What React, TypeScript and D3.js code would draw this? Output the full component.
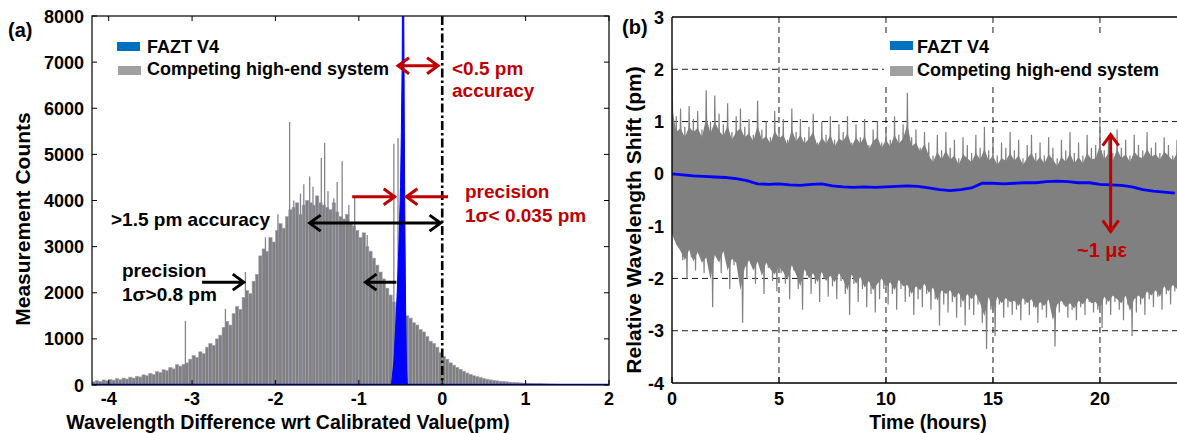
import React from 'react'
import * as d3 from 'd3'

const W = 1177
const H = 433
const FONT = '"Liberation Sans", Arial, Helvetica, sans-serif'
const RED = '#c00000'

// ---- (a) histogram data ----
const histStart = -4.2
const histBin = 0.04
// competing system, counts per 0.04 pm bin from -4.2 pm
const competingCounts = [
  70, 95, 80, 110, 90, 120, 105, 140, 115, 150,
  130, 170, 150, 190, 175, 220, 200, 250, 230, 290,
  270, 330, 310, 380, 350, 440, 410, 450, 480, 560,
  640, 600, 720, 680, 820, 900, 860, 1000, 1080, 1250,
  1380, 1300, 1550, 1700, 1640, 1900, 2050, 1980, 2250, 2400,
  2800, 2950, 2900, 3200, 3100, 3350, 3500, 3400, 3650, 3800,
  3850, 3950, 3700, 3900, 4000, 3950, 3900, 4100, 3950, 3900,
  3850, 3800, 3950, 3750, 3650, 3600, 3700, 3500, 3450, 3350,
  3200, 3300, 3000, 2900, 2750, 2600, 2450, 2300, 2100, 1950,
  1800, 1700, 1650, 1550, 1500, 1450, 1350, 1300, 1200, 1150,
  1050, 950, 900, 820, 700, 620, 560, 480, 430, 380,
  340, 300, 260, 230, 200, 180, 160, 140, 125, 110,
  100, 90, 80, 75, 68, 60, 55, 50, 45, 42,
  38, 35, 32, 30, 28, 25, 22, 20, 18, 16,
  15, 14, 12, 11, 10, 9, 8, 8, 7, 6, 6, 5, 5, 4, 4,
]
// single-bin outliers of the competing system
const spikeX = [-3.08, -2.6, -2.36, -2.12, -1.97, -1.83, -1.78, -1.7, -1.66, -1.59, -1.55, -1.45, -1.41, -1.37, -1.3, -1.26, -1.2, -1.12, -1.05, -0.9, -0.58, -0.53]
const spikeCounts = [1390, 1650, 2450, 3200, 3700, 5700, 4000, 4150, 4350, 4520, 4300, 4920, 5250, 4200, 4050, 4400, 4850, 3900, 4100, 3250, 5230, 5350]
// FAZT V4 histogram (narrow peak)
const faztX = [-0.61, -0.6, -0.58, -0.56, -0.54, -0.52, -0.5, -0.49, -0.48, -0.475, -0.47, -0.46, -0.45, -0.44, -0.43, -0.42, -0.41]
const faztCounts = [0, 150, 500, 1200, 2000, 3000, 4300, 5500, 7000, 9000, 11000, 7500, 4000, 1800, 500, 50, 0]
const xTicksA = [-4, -3, -2, -1, 0, 1, 2]
const yTicksA = [0, 1000, 2000, 3000, 4000, 5000, 6000, 7000, 8000]

// ---- (b) time series data ----
const timeStep = 0.2
// per-sample peaks of the competing system
const competingHigh = [
  2.05, 1.1, 1.25, 0.9, 1.3, 1.05, 1.2, 0.85, 1.6, 1.0,
  1.5, 1.15, 0.95, 1.35, 0.8, 1.1, 1.25, 0.9, 1.05, 0.75,
  1.4, 0.85, 1.0, 0.7, 1.2, 0.9, 1.05, 0.65, 1.25, 0.8,
  1.05, 0.7, 0.9, 1.15, 0.6, 1.0, 0.75, 1.1, 0.65, 0.95,
  0.8, 1.1, 0.6, 0.95, 0.7, 1.05, 0.55, 0.85, 1.0, 0.6,
  0.9, 0.65, 1.1, 0.75, 0.95, 1.55, 0.7, 0.85, 0.5, 0.8,
  0.6, 0.35, 0.75, 0.45, 0.8, 0.5, 0.65, 0.3, 0.7, 0.55,
  0.4, 0.75, 0.5, 0.9, 0.45, 0.7, 0.35, 0.6, 0.5, 0.8,
  0.45, 0.65, 0.3, 0.55, 0.75, 0.4, 0.6, 0.35, 0.7, 0.5,
  0.3, 0.65, 0.45, 0.8, 0.4, 0.6, 0.35, 0.75, 0.5, 0.55,
  1.0, 0.45, 0.7, 0.4, 0.85, 0.5, 0.65, 0.35, 0.75, 0.55,
  0.45, 0.8, 0.5, 0.6, 0.4, 0.7, 0.55, 0.35, 0.65,
]
const competingLow = [
  -1.0, -1.4, -1.65, -2.0, -1.6, -1.85, -1.5, -1.9, -1.7, -2.55,
  -1.6, -1.9, -1.45, -2.2, -1.75, -1.8, -2.85, -2.0, -1.7, -2.1,
  -1.75, -2.3, -1.8, -2.05, -2.25, -1.9, -2.1, -2.4, -1.85, -2.2,
  -2.6, -1.95, -2.3, -2.1, -2.45, -2.0, -2.35, -2.15, -2.4, -2.05,
  -2.3, -2.7, -2.1, -2.45, -2.2, -2.55, -2.3, -2.65, -2.4, -2.2,
  -2.5, -2.3, -2.6, -2.2, -2.45, -2.35, -2.7, -2.4, -2.55, -2.3,
  -2.6, -2.4, -2.9, -2.5, -2.65, -2.45, -2.75, -2.55, -2.9, -2.6,
  -2.7, -2.5, -2.85, -3.35, -2.6, -3.1, -2.5, -2.75, -2.55, -2.7,
  -2.6, -2.8, -2.5, -2.7, -2.55, -2.85, -2.6, -2.75, -2.5, -3.3,
  -2.65, -2.5, -2.75, -2.6, -2.8, -2.55, -2.7, -2.45, -2.65, -2.6,
  -2.95, -2.5, -2.7, -2.45, -2.6, -2.8, -2.5, -3.1, -2.65, -2.5,
  -2.7, -2.4, -2.55, -2.35, -2.6, -2.3, -2.5, -2.25, -2.4,
]
// dense body of the competing signal, hourly
const coreHigh = [0.5, 0.55, 0.5, 0.5, 0.45, 0.45, 0.45, 0.4, 0.45, 0.4, 0.4, 0.35, 0.1, 0.05, 0.05, 0.0, 0.05, 0.05, 0.0, 0.05, 0.1, 0.1, 0.15, 0.15, 0.15]
const coreLow = [-1.3, -1.5, -1.5, -1.6, -1.6, -1.65, -1.7, -1.75, -1.75, -1.8, -1.85, -1.9, -1.95, -2.0, -2.1, -2.2, -2.25, -2.3, -2.35, -2.3, -2.2, -2.15, -2.1, -2.0, -1.95]
const faztStep = 0.5
const faztShift = [
  0.0, -0.02, -0.04, -0.05, -0.06, -0.07, -0.09, -0.13, -0.19, -0.2,
  -0.19, -0.21, -0.22, -0.2, -0.19, -0.23, -0.25, -0.26, -0.25, -0.26,
  -0.25, -0.24, -0.23, -0.24, -0.27, -0.3, -0.32, -0.3, -0.27, -0.18,
  -0.18, -0.19, -0.18, -0.17, -0.17, -0.15, -0.14, -0.15, -0.17, -0.17,
  -0.2, -0.21, -0.22, -0.25, -0.3, -0.33, -0.35, -0.37,
]
const xTicksB = [0, 5, 10, 15, 20]
const yTicksB = [-4, -3, -2, -1, 0, 1, 2, 3]

// chevron-headed arrow
function Arrow({ x1, y1, x2, y2, color, both = false, w = 3, head = 11, half = 8 }: any) {
  const ang = Math.atan2(y2 - y1, x2 - x1)
  const chevron = (x: number, y: number, a: number) => {
    const p1 = [x - head * Math.cos(a) + half * Math.sin(a), y - head * Math.sin(a) - half * Math.cos(a)]
    const p2 = [x - head * Math.cos(a) - half * Math.sin(a), y - head * Math.sin(a) + half * Math.cos(a)]
    return `M${p1[0]},${p1[1]}L${x},${y}L${p2[0]},${p2[1]}`
  }
  let d = `M${x1},${y1}L${x2},${y2}` + chevron(x2, y2, ang)
  if (both) d += chevron(x1, y1, ang + Math.PI)
  return <path d={d} fill="none" stroke={color} strokeWidth={w} strokeLinejoin="miter" />
}

function PanelA() {
  const x = d3.scaleLinear().domain([-4.2, 2]).range([92, 609])
  const y = d3.scaleLinear().domain([0, 8000]).range([385, 16])
  const faztArea = d3.area<number>()
    .x((_, i) => x(faztX[i]))
    .y0(y(0))
    .y1(d => y(d))
  return (
    <g>
      <defs>
        <clipPath id="clipA">
          <rect x={x(-4.2)} y={y(8000)} width={x(2) - x(-4.2)} height={y(0) - y(8000)} />
        </clipPath>
      </defs>
      <g clipPath="url(#clipA)">
        {competingCounts.map((c, i) => {
          const x0 = x(histStart + i * histBin)
          const x1 = x(histStart + (i + 1) * histBin)
          return <rect key={i} x={x0} y={y(c)} width={x1 - x0} height={y(0) - y(c)}
            fill="#808080" stroke="#a2a2b2" strokeWidth={0.6} />
        })}
        {spikeX.map((s, i) => (
          <line key={i} x1={x(s)} x2={x(s)} y1={y(0)} y2={y(spikeCounts[i])} stroke="#858590" strokeWidth={1.3} />
        ))}
        <path d={faztArea(faztCounts) || ''} fill="#0000ff" stroke="#0000ff" strokeWidth={1} />
        <line x1={x(-4.2)} x2={x(2)} y1={y(0)} y2={y(0)} stroke="#0000ff" strokeWidth={2.5} />
      </g>
      {/* calibrated value */}
      <line x1={x(0)} x2={x(0)} y1={y(8000)} y2={y(0)} stroke="#000" strokeWidth={2.6} strokeDasharray="9,3,2.5,3" />
      {/* frame and ticks */}
      <rect x={x(-4.2)} y={y(8000)} width={x(2) - x(-4.2)} height={y(0) - y(8000)} fill="none" stroke="#000" strokeWidth={1.2} />
      {xTicksA.map(t => (
        <g key={t}>
          <line x1={x(t)} x2={x(t)} y1={y(0)} y2={y(0) - 5} stroke="#000" />
          <line x1={x(t)} x2={x(t)} y1={y(8000)} y2={y(8000) + 5} stroke="#000" />
          <text x={x(t)} y={405} textAnchor="middle" fontSize={18} fontWeight="bold">{t}</text>
        </g>
      ))}
      {yTicksA.map(t => (
        <g key={t}>
          <line x1={x(-4.2)} x2={x(-4.2) + 5} y1={y(t)} y2={y(t)} stroke="#000" />
          <line x1={x(2)} x2={x(2) - 5} y1={y(t)} y2={y(t)} stroke="#000" />
          <text x={84} y={y(t) + 6.5} textAnchor="end" fontSize={18} fontWeight="bold">{t}</text>
        </g>
      ))}
      <text x={288} y={429} textAnchor="middle" fontSize={19.5} fontWeight="bold">Wavelength Difference wrt Calibrated Value(pm)</text>
      <text transform="translate(30,219) rotate(-90)" textAnchor="middle" fontSize={21} fontWeight="bold">Measurement Counts</text>
      <text x={8} y={37} fontSize={20} fontWeight="bold">(a)</text>
      {/* legend */}
      <rect x={117} y={42} width={23} height={9} fill="#0070c0" />
      <text x={147} y={53} fontSize={18} fontWeight="bold">FAZT V4</text>
      <rect x={118} y={66} width={23} height={9} fill="#a0a0a0" />
      <text x={147} y={75} fontSize={18} fontWeight="bold">Competing high-end system</text>
      {/* annotations */}
      <Arrow x1={x(-0.53)} x2={x(-0.05)} y1={y(6920)} y2={y(6920)} color={RED} both />
      <text x={452} y={75} fill={RED} fontSize={19} fontWeight="bold">&lt;0.5 pm</text>
      <text x={452} y={97} fill={RED} fontSize={19} fontWeight="bold">accuracy</text>
      <Arrow x1={x(-1.08)} x2={x(-0.57)} y1={y(4080)} y2={y(4080)} color={RED} />
      <Arrow x1={x(0.07)} x2={x(-0.43)} y1={y(4080)} y2={y(4080)} color={RED} />
      <text x={465} y={198} fill={RED} fontSize={19} fontWeight="bold">precision</text>
      <text x={465} y={222} fill={RED} fontSize={19} fontWeight="bold">1σ&lt; 0.035 pm</text>
      <Arrow x1={x(-1.59)} x2={x(-0.02)} y1={y(3510)} y2={y(3510)} color="#000" both />
      <text x={111} y={226} fontSize={19} fontWeight="bold">&gt;1.5 pm accuracy</text>
      <Arrow x1={x(-2.88)} x2={x(-2.38)} y1={y(2230)} y2={y(2230)} color="#000" />
      <Arrow x1={x(-0.55)} x2={x(-0.92)} y1={y(2230)} y2={y(2230)} color="#000" />
      <text x={122} y={277} fontSize={19} fontWeight="bold">precision</text>
      <text x={122} y={301} fontSize={19} fontWeight="bold">1σ&gt;0.8 pm</text>
    </g>
  )
}

function PanelB() {
  const x = d3.scaleLinear().domain([0, 23.6]).range([672, 1177])
  const y = d3.scaleLinear().domain([-4, 3]).range([383, 17])
  const hour = (i: number) => Math.min(coreHigh.length - 1, Math.floor(i * timeStep))
  // the noisy signal swings between each sample's peak and trough
  const zig: [number, number][] = []
  competingHigh.forEach((h, i) => {
    zig.push([i * timeStep, h])
    zig.push([i * timeStep + timeStep / 2, competingLow[i]])
  })
  const sig = d3.line<[number, number]>().x(d => x(d[0])).y(d => y(d[1]))
  // ragged body: halfway between the dense core and each sample's extreme
  const body = d3.area<number>()
    .x((_, i) => x(i * timeStep))
    .y0((_, i) => y((competingLow[i] + coreLow[hour(i)]) / 2))
    .y1((d, i) => y((d + coreHigh[hour(i)]) / 2))
  const fazt = d3.line<number>()
    .x((_, i) => x(i * faztStep))
    .y(d => y(d))
  return (
    <g>
      <defs>
        <clipPath id="clipB">
          <rect x={x(0)} y={y(3)} width={x(23.6) - x(0)} height={y(-4) - y(3)} />
        </clipPath>
      </defs>
      <g clipPath="url(#clipB)">
        {xTicksB.filter(t => t > 0).map(t => (
          <line key={t} x1={x(t)} x2={x(t)} y1={y(3)} y2={y(-4)} stroke="#000" strokeWidth={0.9} strokeDasharray="6,4" />
        ))}
        {yTicksB.filter(t => t > -4 && t < 3).map(t => (
          <line key={t} x1={x(0)} x2={x(23.6)} y1={y(t)} y2={y(t)} stroke="#000" strokeWidth={0.9} strokeDasharray="6,4" />
        ))}
        <path d={body(competingHigh) || ''} fill="#808080" />
        <path d={sig(zig) || ''} fill="none" stroke="#808080" strokeWidth={1.2} />
        <path d={fazt(faztShift) || ''} fill="none" stroke="#0000ff" strokeWidth={2.8} />
      </g>
      <line x1={x(0)} x2={x(0)} y1={y(3)} y2={y(-4)} stroke="#000" strokeWidth={1.4} />
      <line x1={x(0)} x2={W} y1={y(3)} y2={y(3)} stroke="#000" strokeWidth={1.4} />
      <line x1={x(0)} x2={W} y1={y(-4)} y2={y(-4)} stroke="#000" strokeWidth={1.4} />
      {xTicksB.map(t => (
        <g key={t}>
          <line x1={x(t)} x2={x(t)} y1={y(-4)} y2={y(-4) - 6} stroke="#000" />
          <text x={x(t)} y={405} textAnchor="middle" fontSize={18} fontWeight="bold">{t}</text>
        </g>
      ))}
      {yTicksB.map(t => (
        <text key={t} x={664} y={y(t) + 6.5} textAnchor="end" fontSize={18} fontWeight="bold">{t}</text>
      ))}
      <text x={928} y={429} textAnchor="middle" fontSize={19.5} fontWeight="bold">Time (hours)</text>
      <text transform="translate(641,220) rotate(-90)" textAnchor="middle" fontSize={21} fontWeight="bold">Relative Wavelength Shift (pm)</text>
      <text x={622} y={34} fontSize={20} fontWeight="bold">(b)</text>
      {/* legend */}
      <rect x={884} y={36} width={W - 884} height={48} fill="#fff" />
      <rect x={890} y={41} width={23} height={9} fill="#0070c0" />
      <text x={917} y={53} fontSize={18} fontWeight="bold">FAZT V4</text>
      <rect x={890} y={66} width={23} height={10} fill="#a0a0a0" />
      <text x={917} y={76} fontSize={18} fontWeight="bold">Competing high-end system</text>
      {/* strain annotation */}
      <Arrow x1={x(20.5)} x2={x(20.5)} y1={y(-1.1)} y2={y(0.75)} color={RED} both />
      <text x={1102} y={257} textAnchor="middle" fill={RED} fontSize={20} fontWeight="bold">~1 με</text>
    </g>
  )
}

export default function App() {
  return (
    <svg width={W} height={H} style={{ position: 'absolute', left: 0, top: 0, background: '#fff' }}
      fontFamily={FONT}>
      <rect width={W} height={H} fill="#fff" />
      <PanelA />
      <PanelB />
    </svg>
  )
}
